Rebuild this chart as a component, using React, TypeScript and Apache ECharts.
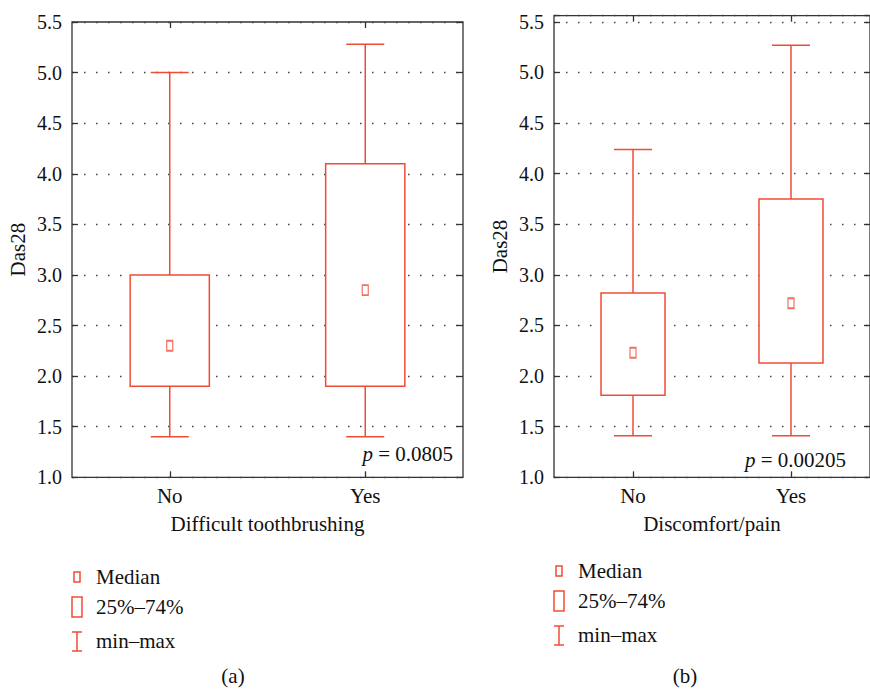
import React, { useEffect, useRef } from "react";
import * as echarts from "echarts";

const categories = ["No", "Yes"];
// Panel (a): Difficult toothbrushing
const minA = [1.4, 1.4];
const q1A = [1.9, 1.9];
const medA = [2.3, 2.85];
const q3A = [3.0, 4.1];
const maxA = [5.0, 5.28];
// Panel (b): Discomfort/pain
const minB = [1.41, 1.41];
const q1B = [1.81, 2.13];
const medB = [2.23, 2.72];
const q3B = [2.82, 3.75];
const maxB = [4.24, 5.27];

const RED = "#ef4c36";
const FRAME = "#333";
const FONT = "Times New Roman, Liberation Serif, serif";

function boxRender(params: any, api: any) {
  const idx = api.value(0);
  const pMin = api.coord([idx, api.value(1)]);
  const pQ1 = api.coord([idx, api.value(2)]);
  const pQ3 = api.coord([idx, api.value(4)]);
  const pMax = api.coord([idx, api.value(5)]);
  const band = api.size([1, 0])[0];
  const bw = band * 0.405;
  const cw = 38;
  const x = pMin[0];
  const ls = { stroke: RED, lineWidth: 1.5, fill: null };
  return {
    type: "group",
    children: [
      { type: "line", shape: { x1: x, y1: pMax[1], x2: x, y2: pQ3[1] }, style: ls },
      { type: "line", shape: { x1: x, y1: pQ1[1], x2: x, y2: pMin[1] }, style: ls },
      { type: "line", shape: { x1: x - cw / 2, y1: pMax[1], x2: x + cw / 2, y2: pMax[1] }, style: ls },
      { type: "line", shape: { x1: x - cw / 2, y1: pMin[1], x2: x + cw / 2, y2: pMin[1] }, style: ls },
      {
        type: "rect",
        shape: { x: x - bw / 2, y: pQ3[1], width: bw, height: pQ1[1] - pQ3[1] },
        style: { stroke: RED, lineWidth: 1.5, fill: "#fff" },
      },
    ],
  };
}

function legendGroup(x0: number, yMed: number, yBox: number, yWh: number, capX: number, capY: number, cap: string) {
  const ts = { fill: "#111", fontFamily: FONT, fontSize: 21, textVerticalAlign: "middle" };
  const tx = x0 + 23;
  return [
    { type: "rect", shape: { x: x0 + 1, y: yMed - 5, width: 6, height: 10 }, style: { stroke: RED, lineWidth: 1.5, fill: "#fff" } },
    { type: "text", x: tx, y: yMed, style: { ...ts, text: "Median" } },
    { type: "rect", shape: { x: x0 - 1, y: yBox - 10, width: 10, height: 20 }, style: { stroke: RED, lineWidth: 1.5, fill: "#fff" } },
    { type: "text", x: tx, y: yBox, style: { ...ts, text: "25%–74%" } },
    { type: "line", shape: { x1: x0 + 4, y1: yWh - 9, x2: x0 + 4, y2: yWh + 10 }, style: { stroke: RED, lineWidth: 1.5 } },
    { type: "line", shape: { x1: x0 - 1, y1: yWh - 9, x2: x0 + 9, y2: yWh - 9 }, style: { stroke: RED, lineWidth: 1.5 } },
    { type: "line", shape: { x1: x0 - 1, y1: yWh + 10, x2: x0 + 9, y2: yWh + 10 }, style: { stroke: RED, lineWidth: 1.5 } },
    { type: "text", x: tx, y: yWh, style: { ...ts, text: "min–max" } },
    { type: "text", x: capX, y: capY, style: { ...ts, text: cap, textAlign: "center" } },
  ];
}

export default function App() {
  const ref = useRef<HTMLDivElement>(null);
  useEffect(() => {
    document.body.style.margin = "0";
    const chart = echarts.init(ref.current!, null, { renderer: "svg" });

    const fmt = (v: number) => (Math.abs(v * 2 - Math.round(v * 2)) < 1e-6 ? v.toFixed(1) : "");

    const mkY = (gi: number, max: number) => [
      {
        type: "value",
        gridIndex: gi,
        min: 1,
        max,
        interval: 0.5,
        name: "Das28",
        nameLocation: "middle",
        nameGap: 44,
        nameTextStyle: { fontFamily: FONT, fontSize: 21, color: "#111" },
        axisLine: { show: false },
        axisTick: { show: true, inside: true, length: 6, lineStyle: { color: FRAME, width: 1.3 } },
        axisLabel: { fontFamily: FONT, fontSize: 20, color: "#111", margin: 10, formatter: fmt },
        splitLine: { show: true, lineStyle: { type: [1.5, 10.5], color: "#444", width: 1.3 } },
      },
      {
        type: "value",
        gridIndex: gi,
        position: "right",
        min: 1,
        max,
        interval: 0.5,
        axisLine: { show: false },
        axisTick: { show: true, inside: true, length: 6, lineStyle: { color: FRAME, width: 1.3 } },
        axisLabel: { show: false },
        splitLine: { show: false },
      },
    ];

    const mkX = (gi: number, name: string) => [
      {
        type: "category",
        gridIndex: gi,
        data: categories,
        name,
        nameLocation: "middle",
        nameGap: 36,
        nameTextStyle: { fontFamily: FONT, fontSize: 21, color: "#111" },
        axisLine: { show: false },
        axisTick: { show: true, inside: true, alignWithLabel: true, length: 6, lineStyle: { color: FRAME, width: 1.3 } },
        axisLabel: { fontFamily: FONT, fontSize: 21, color: "#111", margin: 8 },
      },
      {
        type: "category",
        gridIndex: gi,
        data: categories,
        position: "top",
        axisLine: { show: false },
        axisTick: { show: true, inside: true, alignWithLabel: true, length: 6, lineStyle: { color: FRAME, width: 1.3 } },
        axisLabel: { show: false },
      },
    ];

    const boxData = (mn: number[], q1: number[], md: number[], q3: number[], mx: number[]) =>
      categories.map((_, i) => [i, mn[i], q1[i], md[i], q3[i], mx[i]]);
    const medData = (md: number[]) => categories.map((_, i) => [i, md[i]]);

    const gridStyle = { show: true, borderColor: FRAME, borderWidth: 1.3, backgroundColor: "transparent" };

    const pStyle = (text: string) => ({
      text,
      fontFamily: FONT,
      fontSize: 21,
      fill: "#111",
      rich: { i: { fontStyle: "italic", fontFamily: FONT, fontSize: 21 } },
    });

    chart.setOption({
      animation: false,
      textStyle: { fontFamily: FONT },
      grid: [
        { ...gridStyle, left: 72, top: 22, width: 391, height: 455.3 },
        { ...gridStyle, left: 554, top: 15.7, width: 326, height: 461.6 },
      ],
      xAxis: [...mkX(0, "Difficult toothbrushing"), ...mkX(1, "Discomfort/pain")],
      yAxis: [...mkY(0, 5.5), ...mkY(1, 5.5 + 0.061)],
      series: [
        {
          type: "custom",
          xAxisIndex: 0,
          yAxisIndex: 0,
          renderItem: boxRender,
          encode: { x: 0, y: [1, 2, 3, 4, 5] },
          data: boxData(minA, q1A, medA, q3A, maxA),
          z: 3,
        },
        {
          type: "scatter",
          xAxisIndex: 0,
          yAxisIndex: 0,
          symbol: "rect",
          symbolSize: [6, 10],
          itemStyle: { color: "#fff", borderColor: RED, borderWidth: 1.5 },
          data: medData(medA),
          z: 4,
        },
        {
          type: "custom",
          xAxisIndex: 2,
          yAxisIndex: 2,
          renderItem: boxRender,
          encode: { x: 0, y: [1, 2, 3, 4, 5] },
          data: boxData(minB, q1B, medB, q3B, maxB),
          z: 3,
        },
        {
          type: "scatter",
          xAxisIndex: 2,
          yAxisIndex: 2,
          symbol: "rect",
          symbolSize: [6, 10],
          itemStyle: { color: "#fff", borderColor: RED, borderWidth: 1.5 },
          data: medData(medB),
          z: 4,
        },
      ],
      graphic: [
        { type: "text", right: 870 - 453, top: 443, z: 10, style: pStyle("{i|p} = 0.0805") },
        { type: "text", right: 870 - 846, top: 449, z: 10, style: pStyle("{i|p} = 0.00205") },
        ...legendGroup(73, 577, 607, 641, 233, 676, "(a)"),
        ...legendGroup(555, 571, 601, 635, 685, 676, "(b)"),
      ],
    });
    return () => chart.dispose();
  }, []);
  return <div ref={ref} style={{ width: 870, height: 691 }} />;
}
